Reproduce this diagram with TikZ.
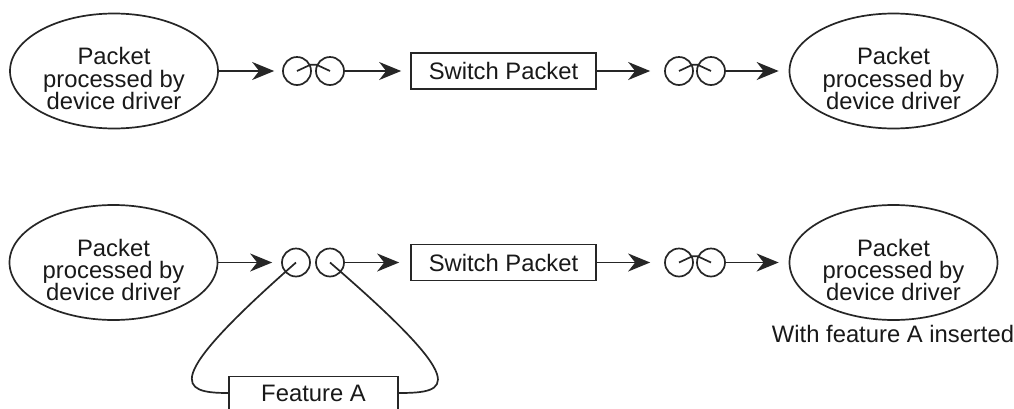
\documentclass[tikz,border=0pt]{standalone}
\usepackage{fontspec}
\setmainfont{Liberation Sans}
\usetikzlibrary{arrows.meta,shapes.geometric}
\begin{document}
\begin{tikzpicture}[x=0.5pt,y=-0.5pt,
  ink/.style={draw=black!85, line width=0.85pt},
  blob/.style={ellipse, ink, minimum width=104pt, minimum height=57.5pt, inner sep=0pt},
  lbl/.style={text=black!90, font=\fontsize{11.9}{11.1}\selectfont, align=center, inner sep=0pt},
  ring/.style={circle, ink, minimum size=14pt, inner sep=0pt},
  boxnode/.style={rectangle, ink, minimum width=92.5pt, minimum height=18pt, inner sep=0pt, text=black!90, font=\fontsize{11.9}{11.1}\selectfont},
  arr/.style={ink, -{Stealth[length=11pt,width=9pt,inset=3.5pt]}}
]
\useasboundingbox (0,0) rectangle (1014,408);
\fill[white] (0,0) rectangle (1014,408);
\clip (0,0) rectangle (1014,408);

% ---------- top row ----------
\node[blob] (e1) at (114,71) {};
\node[lbl, yshift=-3.75pt] (t1) at (e1.center) {Packet\\processed by\\device driver};
\node[ring] (c1) at (297,71) {};
\node[ring] (c2) at (330,71) {};
\node[boxnode] (s1) at (503.5,71) {Switch Packet};
\node[ring] (c3) at (679,71) {};
\node[ring] (c4) at (711,71) {};
\node[blob] (e2) at (893.5,71) {};
\node[lbl, yshift=-3.75pt] (t2) at (e2.center) {Packet\\processed by\\device driver};

\draw[arr, shorten >=4pt] (e1.east) -- (c1.west);
\draw[arr, shorten >=4.5pt] (c2.east) -- (s1.west);
\draw[arr, shorten >=7pt] (s1.east) -- (c3.west);
\draw[arr, shorten >=5pt] (c4.east) -- (e2.west);
\draw[ink] (c1.center) -- (c1.25) -- (c2.155) -- (c2.center);
\draw[ink] (c3.center) -- (c3.25) -- (c4.155) -- (c4.center);

% ---------- bottom row ----------
\node[blob] (e3) at (113.5,262.5) {};
\node[lbl, yshift=-3.75pt] (t3) at (e3.center) {Packet\\processed by\\device driver};
\node[ring] (c5) at (296,262.5) {};
\node[ring] (c6) at (330,262.5) {};
\node[boxnode] (s2) at (503.5,262.5) {Switch Packet};
\node[ring] (c7) at (679,262.5) {};
\node[ring] (c8) at (711,262.5) {};
\node[blob] (e4) at (893.5,262.5) {};
\node[lbl, yshift=-3.75pt] (t4) at (e4.center) {Packet\\processed by\\device driver};
\node[lbl, anchor=base] (cap) at (893,342) {With feature A inserted};
\node[boxnode, minimum width=84.5pt, minimum height=16.5pt] (fa) at (313.5,393) {Feature A};

\draw[arr, shorten >=4.5pt] (e3.east) -- (c5.west);
\draw[arr, shorten >=5.5pt] (c6.east) -- (s2.west);
\draw[arr, shorten >=7pt] (s2.east) -- (c7.west);
\draw[arr, shorten >=5pt] (c8.east) -- (e4.west);
\draw[ink] (c7.center) -- (c7.25) -- (c8.155) -- (c8.center);
\draw[ink] (c5.center) .. controls (160,382) and (180,393) .. (fa.west);
\draw[ink] (c6.center) .. controls (472,385) and (450,393) .. (fa.east);
\end{tikzpicture}
\end{document}
